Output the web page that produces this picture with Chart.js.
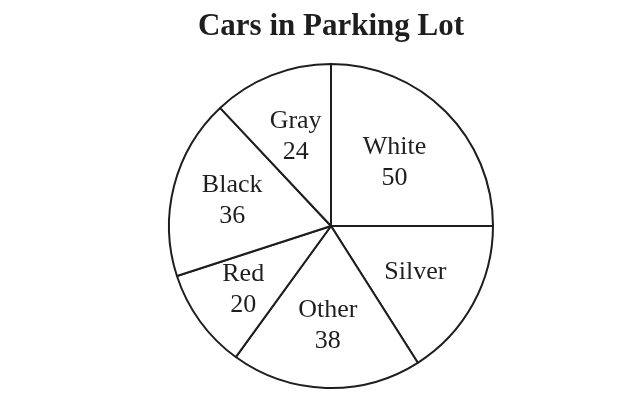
<!DOCTYPE html>
<html>
<head>
<meta charset="utf-8">
<script src="https://cdn.jsdelivr.net/npm/chart.js@4.4.1/dist/chart.umd.min.js"></script>
<style>
  html, body { margin: 0; padding: 0; background: #ffffff; }
  #wrap { width: 640px; height: 419px; }
</style>
</head>
<body>
<div id="wrap"><canvas id="c"></canvas></div>
<script>
// Data (clockwise from 12 o'clock)
const categories = ['White', 'Silver', 'Other', 'Red', 'Black', 'Gray'];
const values = [50, 32, 38, 20, 36, 24];
const valueShown = [true, false, true, true, true, true];
const chartTitle = 'Cars in Parking Lot';

// Label placement style: fraction of the radius at which each label sits
const labelRadiusFactor = [0.555, 0.594, 0.615, 0.67, 0.63, 0.593];

const ink = '#1e1e1e';
const serif = '"Liberation Serif", "Times New Roman", serif';

const sliceLabels = {
  id: 'sliceLabels',
  afterDatasetsDraw(chart) {
    const ctx = chart.ctx;
    const meta = chart.getDatasetMeta(0);
    ctx.save();
    ctx.fillStyle = ink;
    ctx.font = '26px ' + serif;
    ctx.textAlign = 'center';
    ctx.textBaseline = 'middle';
    const lineGap = 31;
    meta.data.forEach((arc, i) => {
      const p = arc.getProps(['x', 'y', 'startAngle', 'endAngle', 'outerRadius'], true);
      const mid = (p.startAngle + p.endAngle) / 2;
      const r = p.outerRadius * labelRadiusFactor[i];
      const cx = p.x + Math.cos(mid) * r;
      const cy = p.y + Math.sin(mid) * r;
      if (valueShown[i]) {
        ctx.fillText(categories[i], cx, cy - lineGap / 2);
        ctx.fillText(String(values[i]), cx, cy + lineGap / 2);
      } else {
        ctx.fillText(categories[i], cx, cy);
      }
    });
    ctx.restore();
  }
};

new Chart(document.getElementById('c'), {
  type: 'pie',
  data: {
    labels: categories,
    datasets: [{
      data: values,
      backgroundColor: '#ffffff',
      borderColor: ink,
      borderWidth: 2,
      hoverBorderWidth: 2,
      hoverOffset: 0
    }]
  },
  options: {
    responsive: true,
    maintainAspectRatio: false,
    animation: false,
    layout: { padding: { left: 22, right: 0, top: 0, bottom: 30 } },
    plugins: {
      legend: { display: false },
      tooltip: { enabled: false },
      title: {
        display: true,
        text: chartTitle,
        color: ink,
        font: { family: serif, size: 31, weight: 'bold' },
        padding: { top: 8.4, bottom: 17.4 }
      }
    }
  },
  plugins: [sliceLabels]
});
</script>
</body>
</html>
